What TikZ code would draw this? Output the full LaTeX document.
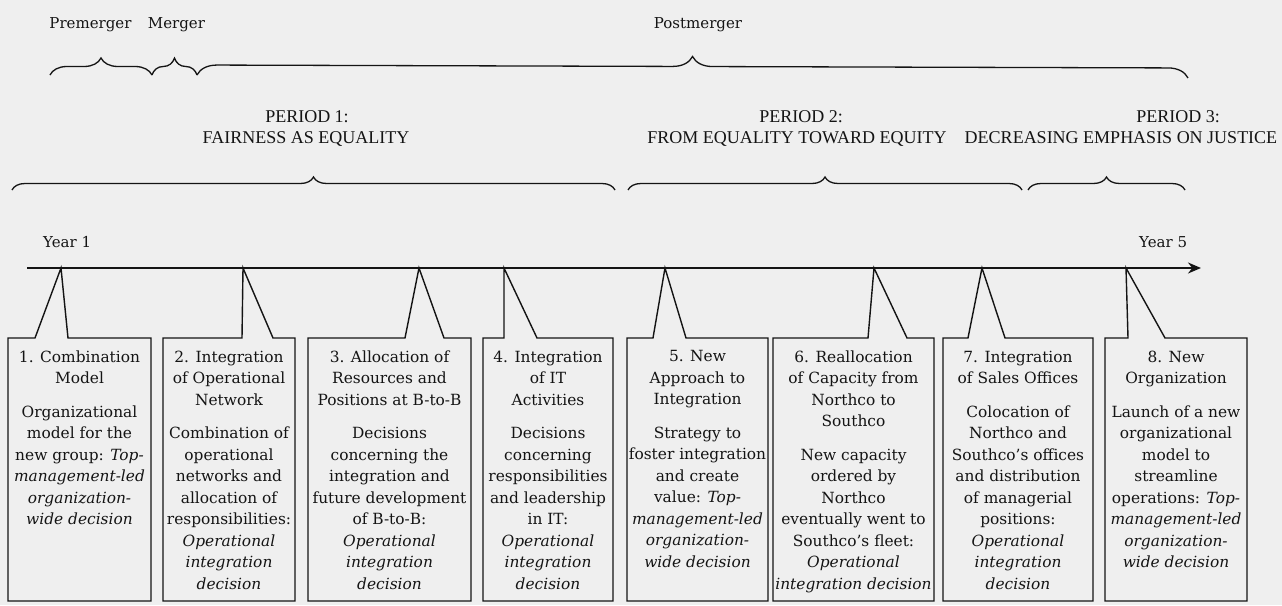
\documentclass[tikz,border=0pt]{standalone}
\usepackage{fontspec}
\setmainfont{DejaVu Serif}
\newfontfamily\perfont{Liberation Serif}
\usetikzlibrary{decorations.pathreplacing,arrows.meta}
\definecolor{bg}{RGB}{239,239,239}
\definecolor{ink}{RGB}{20,20,20}
\newcommand{\tlbox}[7]{%
  \node[boxframe, minimum width={#3-#2}] (#1) at ({(#2+#3)/2},469.5) {};
  \coordinate (#1a) at (#5,268);
  \coordinate (#1l) at (#4,338);
  \coordinate (#1r) at (#6,338);
  \draw[boxline] (#1.south west) -- (#1.north west) -- (#1l) -- (#1a) -- (#1r) -- (#1.north east) -- (#1.south east) -- cycle;
  \node[boxtext] (#1t) at ([yshift=-12.5pt]#1.north) {#7};
}
\begin{document}
\begin{tikzpicture}[x=1pt,y=-1pt,
  boxframe/.style={rectangle, minimum height=263, inner sep=0pt, outer sep=0pt},
  boxline/.style={draw=ink, line width=1.4pt, line join=miter},
  boxtext/.style={anchor=north, align=center, inner sep=0pt, text=ink,
    font=\fontsize{15.4}{21.5}\selectfont},
  brc/.style={draw=ink, line width=1.3pt, decorate, decoration={brace, amplitude=#1, aspect=0.5}},
  brc/.default=13pt,
  phase/.style={anchor=base, inner sep=0pt, text=ink, font=\fontsize{15}{18}\selectfont},
  perlbl/.style={anchor=base, inner sep=0pt, text=ink, font=\perfont\fontsize{18}{21}\selectfont},
  timeline/.style={draw=ink, line width=1.8pt, -{Stealth[length=13pt, width=11pt]}}
]
\fill[bg] (0,0) rectangle (1282,605);
\useasboundingbox (0,0) rectangle (1282,605);

% phase labels
\node[phase] (pre) at (90.5,28) {Premerger};
\node[phase] (mer) at (176.5,28) {Merger};
\node[phase] (post) at (698,28) {Postmerger};

% phase braces
\coordinate (pb0) at (50,75);
\coordinate (pb1) at (152,75);
\coordinate (pb2) at (197,75);
\coordinate (pb3) at (1188,78);
\draw[brc=17pt] (pb0) -- (pb1);
\draw[brc=17pt] (pb1) -- (pb2);
\draw[brc=20pt] (pb2) -- (pb3);

% period labels
\node[perlbl] (p1a) at (307,122) {PERIOD 1:};
\node[perlbl] (p1b) at (306,143) {FAIRNESS AS EQUALITY};
\node[perlbl] (p2a) at (801,122) {PERIOD 2:};
\node[perlbl] (p2b) at (797,143) {FROM EQUALITY TOWARD EQUITY};
\node[perlbl] (p3a) at (1178,122) {PERIOD 3:};
\node[perlbl] (p3b) at (1121,143) {DECREASING EMPHASIS ON JUSTICE};

% period braces
\coordinate (q0) at (12,190);
\coordinate (q1) at (615,190);
\coordinate (q2) at (628,190);
\coordinate (q3) at (1022,190);
\coordinate (q4) at (1028,190);
\coordinate (q5) at (1185,190);
\draw[brc] (q0) -- (q1);
\draw[brc] (q2) -- (q3);
\draw[brc] (q4) -- (q5);

% years
\node[phase, anchor=base west] (y1) at (43,247) {Year 1};
\node[phase, anchor=base west] (y5) at (1139,247) {Year 5};

% timeline
\coordinate (t0) at (27,268);
\coordinate (t1) at (1201,268);
\draw[timeline] (t0) -- (t1);

\tlbox{b1}{8}{151}{35}{61}{68}{1. Combination\\Model\\[12pt]Organizational\\model for the\\new group: \textit{Top-}\\\textit{management-led}\\\textit{organization-}\\\textit{wide decision}}
\tlbox{b2}{163}{295}{242}{243}{273}{2. Integration\\of Operational\\Network\\[12pt]Combination of\\operational\\networks and\\allocation of\\responsibilities:\\\textit{Operational}\\\textit{integration}\\\textit{decision}}
\tlbox{b3}{308}{471}{405}{419}{444}{3. Allocation of\\Resources and\\Positions at B-to-B\\[12pt]Decisions\\concerning the\\integration and\\future development\\of B-to-B:\\\textit{Operational}\\\textit{integration}\\\textit{decision}}
\tlbox{b4}{483}{613}{504}{504}{537}{4. Integration\\of IT\\Activities\\[12pt]Decisions\\concerning\\responsibilities\\and leadership\\in IT:\\\textit{Operational}\\\textit{integration}\\\textit{decision}}
\tlbox{b5}{627}{768}{653}{665}{686}{5. New\\Approach to\\Integration\\[12pt]Strategy to\\foster integration\\and create\\value: \textit{Top-}\\\textit{management-led}\\\textit{organization-}\\\textit{wide decision}}
\tlbox{b6}{773}{934}{868}{874}{907}{6. Reallocation\\of Capacity from\\Northco to\\Southco\\[12pt]New capacity\\ordered by\\Northco\\eventually went to\\Southco's fleet:\\\textit{Operational}\\\textit{integration decision}}
\tlbox{b7}{943}{1093}{968}{982}{1005}{7. Integration\\of Sales Offices\\[12pt]Colocation of\\Northco and\\Southco's offices\\and distribution\\of managerial\\positions:\\\textit{Operational}\\\textit{integration}\\\textit{decision}}
\tlbox{b8}{1105}{1247}{1128}{1126}{1165}{8. New\\Organization\\[12pt]Launch of a new\\organizational\\model to\\streamline\\operations: \textit{Top-}\\\textit{management-led}\\\textit{organization-}\\\textit{wide decision}}
\end{tikzpicture}
\end{document}
